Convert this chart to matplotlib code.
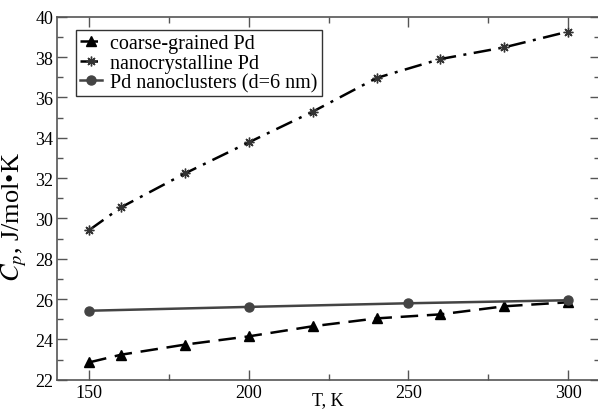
import matplotlib
matplotlib.use('Agg')
import matplotlib.pyplot as plt
from matplotlib.ticker import MultipleLocator

plt.rcParams['font.family'] = ['Liberation Serif', 'DejaVu Serif']
plt.rcParams['mathtext.fontset'] = 'stix'

# data
T_coarse = [150, 160, 180, 200, 220, 240, 260, 280, 300]
cp_coarse = [22.86, 23.24, 23.74, 24.15, 24.65, 25.04, 25.24, 25.64, 25.84]

T_nano = [150, 160, 180, 200, 220, 240, 260, 280, 300]
cp_nano = [29.42, 30.55, 32.23, 33.77, 35.29, 36.96, 37.90, 38.48, 39.26]

T_clust = [150, 200, 250, 300]
cp_clust = [25.42, 25.61, 25.79, 25.94]

fig = plt.figure(figsize=(5.98, 4.10), dpi=100)
ax = fig.add_axes([57.3/598, 1-380.7/410, (600-57.3)/598, (380.7-17.7)/410])

ax.plot(T_coarse, cp_coarse, color='black', lw=1.8, ls=(0, (7, 3.5)),
        marker='^', ms=7, label='coarse-grained Pd')
ax.plot(T_nano, cp_nano, color='black', lw=1.8, ls=(0, (7, 3, 1.2, 3)),
        marker=(8, 2, 0), ms=7, mew=1, mec='#333333', label='nanocrystalline Pd')
ax.plot(T_clust, cp_clust, color='#444444', lw=1.8, ls='-',
        marker='o', ms=6.5, label='Pd nanoclusters (d=6 nm)')

ax.set_xlim(140, 310)
ax.set_ylim(22, 40)
ax.xaxis.set_major_locator(MultipleLocator(50))
ax.xaxis.set_minor_locator(MultipleLocator(25))
ax.yaxis.set_major_locator(MultipleLocator(2))
ax.yaxis.set_minor_locator(MultipleLocator(1))
ax.tick_params(which='both', direction='in', top=True, right=True,
               color='#555555', labelsize=13)
ax.tick_params(which='major', length=7, width=1, pad=3)
ax.tick_params(which='minor', length=4.5, width=1)
for s in ax.spines.values():
    s.set_color('#555555')
    s.set_linewidth(1.2)

# x label sits right at the bottom edge, as in the original
fig.text(328/598, 1/410, 'T, K', fontsize=13, ha='center', va='bottom')
ax.set_ylabel(r'$C_p$, J/mol•K', fontsize=19)
ax.yaxis.set_label_coords(-0.052, 0.45)

leg = ax.legend(loc='upper left', bbox_to_anchor=(0.0345, 0.963), borderaxespad=0,
                fancybox=False, edgecolor='#333333', fontsize=14.5, handlelength=1.1,
                handletextpad=0.4, borderpad=0.2, labelspacing=0.02, framealpha=1)
leg.get_frame().set_linewidth(1)

fig.savefig('out.png', dpi=100)
